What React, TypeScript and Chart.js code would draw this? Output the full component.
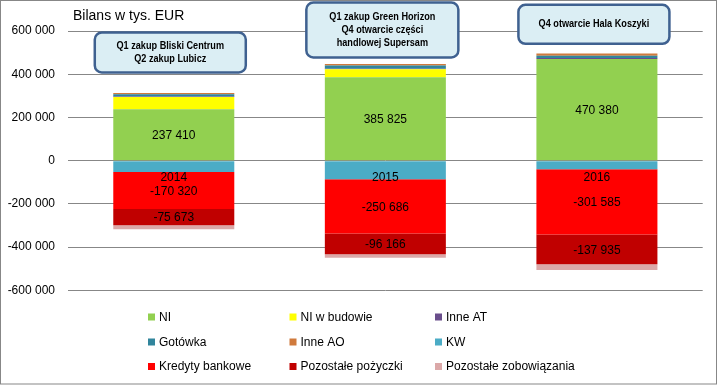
import React, { useEffect, useRef } from "react";
import { Chart, registerables } from "chart.js";

Chart.register(...registerables);

const categories = ["2014", "2015", "2016"];

const seriesNames = [
  "NI",
  "NI w budowie",
  "Inne AT",
  "Gotówka",
  "Inne AO",
  "KW",
  "Kredyty bankowe",
  "Pozostałe pożyczki",
  "Pozostałe zobowiązania",
];

const ni = [237410, 385825, 470380];
const niWBudowie = [57000, 37000, 0];
const inneAT = [2000, 3000, 5000];
const gotowka = [11000, 14000, 10000];
const inneAO = [6000, 8000, 10000];
const kw = [-53000, -86000, -40000];
const kredyty = [-170320, -250686, -301585];
const pozyczki = [-75673, -96166, -137935];
const zobowiazania = [-18000, -17000, -27000];

const seriesValues = [ni, niWBudowie, inneAT, gotowka, inneAO, kw, kredyty, pozyczki, zobowiazania];
const seriesColors = [
  "#92D050",
  "#FFFF00",
  "#6A4E8C",
  "#31859C",
  "#D07A3C",
  "#4BACC6",
  "#FF0000",
  "#C00000",
  "#DBA8A8",
];
const labelledSeries = ["NI", "Kredyty bankowe", "Pozostałe pożyczki"];

const yTicks = { min: -600000, max: 600000, step: 200000 };

const annotationTexts = [
  ["Q1 zakup Bliski Centrum", "Q2 zakup Lubicz"],
  ["Q1 zakup Green Horizon", "Q4 otwarcie części", "handlowej Supersam"],
  ["Q4 otwarcie Hala Koszyki"],
];

const titleText = "Bilans w tys. EUR";

// layout (pixels)
const annotationLayout = [
  { dx: -3.5, cy: 52.5, w: 151, h: 40 },
  { dx: -3, cy: 30, w: 152, h: 55 },
  { dx: -3, cy: 24.3, w: 151, h: 39 },
];
const legendLayout = { colX: [148, 289.5, 435], rowY: [317, 342, 366.5], box: 7 };
const categoryLabelOffset = 17.5;

const FONT = "'Liberation Sans', Arial, sans-serif";

function fmt(v: number): string {
  const s = Math.abs(Math.round(v)).toString().replace(/\B(?=(\d{3})+(?!\d))/g, " ");
  return (v < 0 ? "-" : "") + s;
}

const decorPlugin = {
  id: "decor",
  beforeDraw(chart: any) {
    const ctx = chart.ctx;
    ctx.save();
    ctx.fillStyle = "#ffffff";
    ctx.fillRect(0, 0, chart.width, chart.height);
    ctx.restore();
  },
  afterDatasetsDraw(chart: any) {
    const ctx = chart.ctx;
    const xs = chart.scales.x;
    const ys = chart.scales.y;
    ctx.save();
    ctx.font = `12px ${FONT}`;
    ctx.fillStyle = "#000000";
    ctx.textAlign = "center";
    ctx.textBaseline = "middle";
    chart.data.datasets.forEach((ds: any, i: number) => {
      if (!labelledSeries.includes(ds.label)) return;
      const meta = chart.getDatasetMeta(i);
      meta.data.forEach((el: any, j: number) => {
        const v = ds.data[j];
        if (!v) return;
        const p = el.getProps(["x", "y", "base"], true);
        ctx.fillText(fmt(v), p.x, (p.y + p.base) / 2 + 1);
      });
    });
    // category labels next to the zero line
    const y0 = ys.getPixelForValue(0);
    chart.data.labels.forEach((lab: string, i: number) => {
      ctx.fillText(lab, xs.getPixelForValue(i), y0 + categoryLabelOffset);
    });
    ctx.restore();
  },
  afterDraw(chart: any) {
    const ctx = chart.ctx;
    const xs = chart.scales.x;
    ctx.save();
    // title
    ctx.font = `14px ${FONT}`;
    ctx.fillStyle = "#000000";
    ctx.textAlign = "left";
    ctx.textBaseline = "middle";
    ctx.fillText(titleText, 73, 16);

    // annotation boxes
    annotationTexts.forEach((lines, i) => {
      const L = annotationLayout[i];
      const cx = xs.getPixelForValue(i) + L.dx;
      const x0 = cx - L.w / 2;
      const y0 = L.cy - L.h / 2;
      ctx.beginPath();
      ctx.roundRect(x0, y0, L.w, L.h, 7);
      ctx.fillStyle = "#DBEEF4";
      ctx.fill();
      ctx.lineWidth = 2.5;
      ctx.strokeStyle = "#3F6190";
      ctx.stroke();
      ctx.fillStyle = "#000000";
      ctx.font = `bold 11px ${FONT}`;
      ctx.textAlign = "center";
      ctx.textBaseline = "middle";
      const lh = 13.3;
      const startY = L.cy - ((lines.length - 1) * lh) / 2;
      lines.forEach((t, k) => {
        const w = ctx.measureText(t).width;
        ctx.fillText(t, cx, startY + k * lh, w * 0.83);
      });
    });

    // legend
    ctx.font = `12px ${FONT}`;
    ctx.textAlign = "left";
    ctx.textBaseline = "middle";
    chart.data.datasets.forEach((ds: any, i: number) => {
      const col = i % 3;
      const row = Math.floor(i / 3);
      const bx = legendLayout.colX[col];
      const by = legendLayout.rowY[row];
      ctx.fillStyle = ds.backgroundColor;
      ctx.fillRect(bx, by - legendLayout.box / 2, legendLayout.box, legendLayout.box);
      ctx.fillStyle = "#000000";
      ctx.fillText(ds.label, bx + 11, by + 0.5);
    });

    // outer border
    ctx.strokeStyle = "#878787";
    ctx.lineWidth = 1;
    ctx.strokeRect(0.5, 0.5, 716, 383.5);
    ctx.restore();
  },
};

export default function App() {
  const ref = useRef<HTMLCanvasElement>(null);
  useEffect(() => {
    document.body.style.margin = "0";
    if (!ref.current) return;
    Chart.defaults.font.family = FONT;
    const chart = new Chart(ref.current, {
      type: "bar",
      data: {
        labels: categories,
        datasets: seriesNames.map((name, i) => ({
          label: name,
          data: seriesValues[i],
          backgroundColor: seriesColors[i],
          borderWidth: 0,
          categoryPercentage: 1,
          barPercentage: 0.572,
        })),
      },
      options: {
        responsive: false,
        animation: false,
        layout: { padding: { top: 31, right: 15.3, bottom: 94.7, left: 0 } },
        plugins: {
          legend: { display: false },
          tooltip: { enabled: false },
          title: { display: false },
        },
        scales: {
          x: {
            stacked: true,
            display: false,
            grid: { display: false },
          },
          y: {
            stacked: true,
            min: yTicks.min,
            max: yTicks.max,
            afterFit(scale: any) {
              scale.width = 68;
            },
            ticks: {
              stepSize: yTicks.step,
              color: "#000000",
              font: { size: 12 },
              padding: 13,
              callback: (v: any) => fmt(Number(v)),
            },
            grid: { color: "#878787", lineWidth: 1, drawTicks: false },
            border: { display: false },
          },
        },
      },
      plugins: [decorPlugin],
    });
    return () => chart.destroy();
  }, []);
  return (
    <div style={{ width: 718, height: 385 }}>
      <canvas ref={ref} width={718} height={385} style={{ display: "block" }} />
    </div>
  );
}
